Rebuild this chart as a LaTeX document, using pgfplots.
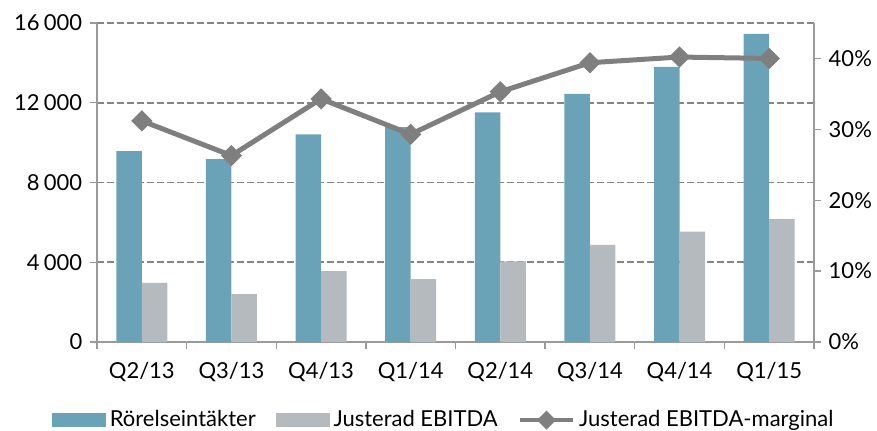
\documentclass[border=0pt]{standalone}
\usepackage{fontspec}
\setmainfont{Lato}
\usepackage{pgfplots}
\pgfplotsset{compat=1.18}
\definecolor{cblue}{HTML}{6AA3B8}
\definecolor{cgray}{HTML}{B5BABE}
\definecolor{cline}{HTML}{7F7F7F}
\definecolor{caxis}{HTML}{9A9A9A}
\definecolor{cgrid}{HTML}{858585}
\begin{document}
\fontsize{11}{13}\selectfont
\begin{tikzpicture}
\path[use as bounding box] (-48.5pt,-44pt) rectangle (390pt,171pt);
\begin{axis}[
  at={(0,0)}, anchor=south west,
  scale only axis, width=358.5pt, height=159.5pt,
  xmin=-0.5, xmax=7.5, ymin=0, ymax=16000,
  axis y line*=left, axis x line*=bottom,
  ytick={0,4000,...,16000}, scaled y ticks=false,
  ymajorgrids, grid style={cgrid, dash pattern=on 3.5pt off 1.5pt, line width=0.8pt},
  axis line style={caxis, line width=0.7pt, -},
  tick style={caxis, line width=0.7pt},
  tick align=outside, major tick length=3.5pt,
  xtick={-0.5,0.5,...,7.5}, xticklabels={},
  extra x ticks={0,1,2,3,4,5,6,7},
  extra x tick labels={Q2/13,Q3/13,Q4/13,Q1/14,Q2/14,Q3/14,Q4/14,Q1/15},
  extra x tick style={tick style={draw=none}, xticklabel style={yshift=-3pt}},
  /pgf/number format/assume math mode=true,
  /pgf/number format/1000 sep={\hspace{0.2em}},
  ybar=0pt, bar width=12.75pt,
]
\addplot[fill=cblue, draw=none] coordinates {(0,9570) (1,9170) (2,10410) (3,10780) (4,11515) (5,12450) (6,13800) (7,15450)};
\addplot[fill=cgray, draw=none] coordinates {(0,2960) (1,2400) (2,3550) (3,3150) (4,4050) (5,4870) (6,5540) (7,6160)};
\end{axis}
\begin{axis}[
  at={(0,0)}, anchor=south west,
  scale only axis, width=358.5pt, height=159.5pt,
  xmin=-0.5, xmax=7.5, ymin=0, ymax=45,
  axis y line*=right, axis x line=none,
  ytick={0,10,...,40},
  yticklabel={\pgfmathprintnumber{\tick}\%},
  axis line style={caxis, line width=0.7pt, -},
  tick style={caxis, line width=0.7pt},
  tick align=outside, major tick length=3.5pt,
  /pgf/number format/assume math mode=true,
  legend style={at={(0.485,-0.245)}, anchor=center, draw=none, fill=none,
    legend columns=3, /tikz/every even column/.append style={column sep=8pt}},
  legend cell align=left,
]
\addlegendimage{legend image code/.code={\fill[cblue] (0pt,-3.25pt) rectangle (26.5pt,3.25pt);}}
\addlegendentry{Rörelseintäkter}
\addlegendimage{legend image code/.code={\fill[cgray] (0pt,-3.25pt) rectangle (26.5pt,3.25pt);}}
\addlegendentry{Justerad EBITDA}
\addplot[cline, line width=2.5pt, mark=square*, mark options={rotate=45, line width=0.5pt}, mark size=3.5pt,
  legend image code/.code={\draw[cline, line width=2.2pt] (0pt,0pt) -- (26.5pt,0pt); \fill[cline] (13.25pt,0pt) +(0,3pt) -- +(3pt,0) -- +(0,-3pt) -- +(-3pt,0) -- cycle;}]
  coordinates {(0,31.2) (1,26.3) (2,34.3) (3,29.3) (4,35.3) (5,39.4) (6,40.2) (7,40.0)};
\addlegendentry{Justerad EBITDA-marginal}
\end{axis}
\end{tikzpicture}
\end{document}
